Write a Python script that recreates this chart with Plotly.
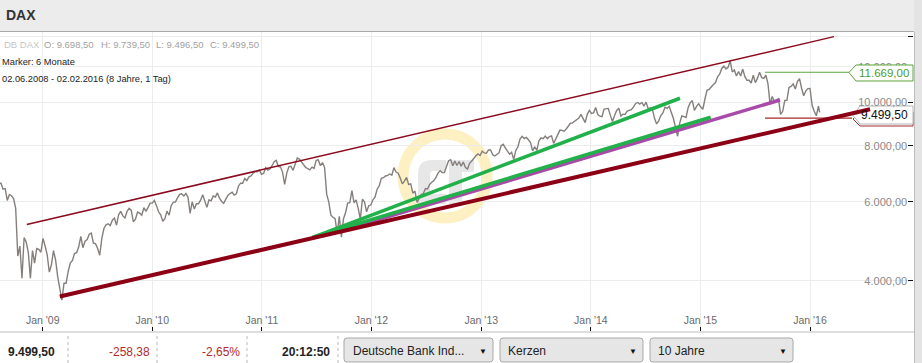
import math
import pandas as pd
import plotly.graph_objects as go

W, H = 922, 363

# ---------------- data ----------------
# weekly DAX values (Fridays), starting 2008-08-08
dax_2008 = [6600, 6600, 6400, 6420,
            6040, 6230, 6190, 6100,
            5800, 4540, 4780, 4050, 4990,
            4880, 4630, 4050, 4670,
            4380, 4720, 4700, 4630]
dax_2009 = [4970, 4780, 4570, 4180, 4340,
            4670, 4450, 4080, 3840,
            3620, 3950, 3950, 4200,
            4380, 4440, 4600, 4620,
            4760, 5020, 4740, 4900, 4940,
            5080, 5110, 4850, 4840,
            4720, 4560, 4980, 5230, 5330,
            5360, 5310, 5460, 5520,
            5320, 5620, 5710, 5580,
            5520, 5710, 5800, 5740, 5410,
            5490, 5690, 5660, 5600,
            5820, 5710, 5830, 5960]
dax_2010 = [5960, 6040, 5880, 5700, 5610,
            5430, 5500, 5720, 5600,
            5880, 5990, 5990, 6120,
            6230, 6250, 6180, 6260, 6140,
            5650, 6000, 5780, 5940,
            5940, 6050, 6220, 6000,
            5830, 6060, 6030, 6180, 6150,
            6280, 6110, 6010, 5950,
            6080, 6200, 6260, 6300,
            6210, 6250, 6500, 6600, 6600,
            6760, 6690, 6820, 6850,
            6950, 7000, 7000, 7060, 6910]
dax_2011 = [6950, 7150, 7060, 7100,
            7220, 7370, 7420, 7190,
            7180, 6980, 6560, 6950,
            7180, 7200, 7050, 7250, 7510,
            7470, 7370, 7270, 7160,
            7110, 7070, 7170, 7120,
            7420, 7440, 7220, 7340, 7160,
            6240, 5990, 5600, 5540,
            5500, 5100, 5570, 5000, 5500,
            5680, 5960, 5970, 6350,
            5970, 6060, 5800, 5490,
            6080, 5990, 5700, 5880, 5900]
dax_2012 = [6060, 6140, 6400, 6510,
            6770, 6790, 6850, 6870,
            6920, 6880, 7150, 6990, 6950,
            6780, 6580, 6670, 6800,
            6560, 6580, 6270, 6340,
            5980, 6130, 6230, 6260, 6420,
            6410, 6560, 6630, 6690,
            6800, 6950, 7040, 6970, 6970,
            7210, 7410, 7450, 7220,
            7400, 7230, 7380, 7200,
            7360, 7160, 7100, 7310, 7400,
            7520, 7600, 7670, 7610]
dax_2013 = [7780, 7710, 7700, 7830,
            7830, 7640, 7590, 7660,
            7710, 8000, 8060, 7910, 7800,
            7660, 7740, 7460, 7810,
            7960, 8280, 8400, 8300, 8350,
            8250, 8130, 7790, 7960,
            7810, 8210, 8330, 8300,
            8410, 8300, 8390, 8420, 8100,
            8270, 8510, 8670, 8660,
            8620, 8720, 8870, 8980,
            9000, 9080, 9170, 9220, 9400,
            9170, 9010, 9400, 9590]
dax_2014 = [9440, 9470, 9740, 9390, 9310,
            9290, 9660, 9660, 9690,
            9350, 9060, 9340, 9590,
            9700, 9320, 9410, 9400,
            9560, 9580, 9630, 9770, 9940,
            9990, 9910, 9990, 9810,
            10010, 9670, 9720, 9640,
            9210, 8950, 9090, 9340, 9470,
            9750, 9690, 9800, 9490,
            9200, 8790, 8400, 8990, 9330,
            9290, 9250, 9730, 9980,
            10090, 9590, 9790, 9930]
dax_2015 = [9760, 9650, 10170, 10650, 10690,
            10850, 10960, 11050, 11400,
            11550, 11900, 12040, 11870,
            11970, 12370, 11690, 11810,
            11450, 11710, 11450, 11860, 11410,
            11200, 11200, 11040, 11490,
            11060, 11320, 11670, 11350, 11310,
            11490, 10990, 9900, 10300,
            10040, 10120, 10190, 9400,
            9550, 10100, 10100, 10790, 10850,
            10990, 10710, 11120, 11290,
            10750, 10340, 10610, 10730]
dax_2016 = [10740, 9850, 9550, 9330, 9800]
weekly_start = "2008-08-08"
last_date = "2016-02-02"
last_value = 9499.5

upper_channel_dates = ["2008-11-09", "2016-03-21"]
upper_channel_vals = [5340, 14010]
lower_trend_dates = ["2009-02-27", "2016-07-19"]
lower_trend_vals = [3690, 9650]
green1_dates = ["2011-06-20", "2014-10-25"]
green1_vals = [5000, 10210]
green2_dates = ["2011-06-20", "2015-02-04"]
green2_vals = [5000, 9260]
purple_dates = ["2011-08-26", "2015-09-23"]
purple_vals = [5110, 10120]
green_level_dates = ["2015-08-04", "2016-05-10"]
green_level = 11669
red_level_dates = ["2015-08-04", "2016-05-20"]
red_level = 9224

ytick_vals = [4000, 6000, 8000, 10000, 12000, 14000]
ytick_text = ["4.000,00", "6.000,00", "8.000,00", "10.000,00", "12.000,00", "14.000,00"]
xtick_dates = ["2009-01-01", "2010-01-01", "2011-01-01", "2012-01-01",
               "2013-01-01", "2014-01-01", "2015-01-01", "2016-01-01"]
xtick_text = ["Jan '09", "Jan '10", "Jan '11", "Jan '12",
              "Jan '13", "Jan '14", "Jan '15", "Jan '16"]

# ---------------- build series ----------------
weekly_vals = dax_2008 + dax_2009 + dax_2010 + dax_2011 + dax_2012 + dax_2013 + dax_2014 + dax_2015 + dax_2016
weekly_dates = list(pd.date_range(weekly_start, periods=len(weekly_vals), freq="W-FRI"))
price_x = weekly_dates + [pd.Timestamp(last_date)]
price_y = weekly_vals + [last_value]

# ---------------- layout calibration (pixels) ----------------
PLOT_L, PLOT_R, PLOT_T, PLOT_B = 0, 913, 32, 331
JAN09_PX, PX_PER_DAY = 42.7, 0.3002
Y10K_PX, PX_PER_DECADE = 102.3, 448.4
x0 = pd.Timestamp("2009-01-01") + pd.Timedelta(days=(PLOT_L - JAN09_PX) / PX_PER_DAY)
x1 = pd.Timestamp("2009-01-01") + pd.Timedelta(days=(PLOT_R - JAN09_PX) / PX_PER_DAY)
ylog_top = 4 + (Y10K_PX - PLOT_T) / PX_PER_DECADE
ylog_bot = 4 - (PLOT_B - Y10K_PX) / PX_PER_DECADE

FONT = "Arial, Liberation Sans, sans-serif"


def px(x):
    return x / W


def py(y):
    return 1 - y / H


def P(x, y):
    return f"{px(x):.5f},{py(y):.5f}"


def poly(points):
    return "M " + " L ".join(P(x, y) for x, y in points) + " Z"


def rrect(x0_, y0_, x1_, y1_, r=3):
    return (f"M {P(x0_ + r, y0_)} L {P(x1_ - r, y0_)} Q {P(x1_, y0_)} {P(x1_, y0_ + r)} "
            f"L {P(x1_, y1_ - r)} Q {P(x1_, y1_)} {P(x1_ - r, y1_)} L {P(x0_ + r, y1_)} "
            f"Q {P(x0_, y1_)} {P(x0_, y1_ - r)} L {P(x0_, y0_ + r)} Q {P(x0_, y0_)} {P(x0_ + r, y0_)} Z")


fig = go.Figure()

fig.add_trace(go.Scatter(x=price_x, y=price_y, mode="lines",
                         line=dict(color="#857f7c", width=1.4), hoverinfo="skip"))
fig.add_trace(go.Scatter(x=upper_channel_dates, y=upper_channel_vals, mode="lines",
                         line=dict(color="#8c0a1e", width=1.5), hoverinfo="skip"))
fig.add_trace(go.Scatter(x=purple_dates, y=purple_vals, mode="lines",
                         line=dict(color="#a84aa8", width=3.5), hoverinfo="skip"))
fig.add_trace(go.Scatter(x=green2_dates, y=green2_vals, mode="lines",
                         line=dict(color="#22b04b", width=3.5), hoverinfo="skip"))
fig.add_trace(go.Scatter(x=green1_dates, y=green1_vals, mode="lines",
                         line=dict(color="#22b04b", width=3.5), hoverinfo="skip"))
fig.add_trace(go.Scatter(x=green_level_dates, y=[green_level, green_level], mode="lines",
                         line=dict(color="#5aa53a", width=1.2), hoverinfo="skip"))
fig.add_trace(go.Scatter(x=red_level_dates, y=[red_level, red_level], mode="lines",
                         line=dict(color="#a52a2a", width=1.2), hoverinfo="skip"))
fig.add_trace(go.Scatter(x=lower_trend_dates, y=lower_trend_vals, mode="lines",
                         line=dict(color="#8c0015", width=4), hoverinfo="skip"))

shapes = []
# watermark
shapes.append(dict(type="circle", xref="paper", yref="paper",
                   x0=px(445 - 42), x1=px(445 + 42), y0=py(176 + 42), y1=py(176 - 42),
                   line=dict(color="rgba(250,222,120,0.45)", width=11), layer="between"))
logo_c = (f"M {P(418, 174)} Q {P(418, 160)} {P(432, 160)} L {P(446, 160)} L {P(446, 171)} "
          f"L {P(433, 171)} Q {P(430, 171)} {P(430, 175)} L {P(430, 194)} L {P(446, 194)} "
          f"L {P(446, 204)} L {P(418, 204)} Z")
logo_t = poly([(449, 160), (474, 160), (474, 172), (462, 172), (462, 204), (449, 204)])
for pth in (logo_c, logo_t):
    shapes.append(dict(type="path", xref="paper", yref="paper", path=pth,
                       fillcolor="rgba(215,215,215,0.6)", line=dict(width=0), layer="between"))

# header bar
shapes.append(dict(type="rect", xref="paper", yref="paper", x0=0, x1=1, y0=py(31), y1=1,
                   fillcolor="#ececec", line=dict(width=0), layer="above"))
shapes.append(dict(type="line", xref="paper", yref="paper", x0=0, x1=px(914), y0=py(31.5), y1=py(31.5),
                   line=dict(color="#a9a9a9", width=1), layer="above"))
# right strip
shapes.append(dict(type="rect", xref="paper", yref="paper", x0=px(914), x1=1, y0=0, y1=1,
                   fillcolor="#e4e4e4", line=dict(width=0), layer="above"))
shapes.append(dict(type="line", xref="paper", yref="paper", x0=px(914.5), x1=px(914.5), y0=0, y1=py(32),
                   line=dict(color="#bdbdbd", width=1), layer="above"))
# bottom bar
shapes.append(dict(type="line", xref="paper", yref="paper", x0=0, x1=px(914), y0=py(332), y1=py(332),
                   line=dict(color="#bcbcbc", width=1), layer="above"))
for sx in (68, 157, 247, 338):
    shapes.append(dict(type="line", xref="paper", yref="paper", x0=px(sx), x1=px(sx), y0=0, y1=py(333),
                       line=dict(color="#b8b8b8", width=1, dash="3px,3px"), layer="above"))
for bx0, bx1 in ((344, 493), (500, 643), (650, 793)):
    shapes.append(dict(type="path", xref="paper", yref="paper", path=rrect(bx0, 338, bx1, 362),
                       fillcolor="#e6e6e6", line=dict(color="#a9a9a9", width=1), layer="above"))

# price labels at the right
shapes.append(dict(type="path", xref="paper", yref="paper",
                   path=poly([(849, 72.5), (856, 65), (913, 65), (913, 81), (856, 81)]),
                   fillcolor="white", line=dict(color="#5aa53a", width=1), layer="above"))
shapes.append(dict(type="path", xref="paper", yref="paper",
                   path=poly([(853, 119), (860, 112), (913, 112), (913, 126), (860, 126)]),
                   fillcolor="white", line=dict(color="#a52a2a", width=1), layer="between"))
shapes.append(dict(type="path", xref="paper", yref="paper",
                   path=poly([(853, 115.5), (860, 106), (913, 106), (913, 124), (860, 124)]),
                   fillcolor="white", line=dict(color="#b5b5b5", width=1), layer="between"))

annotations = []


def txt(x, y, s, size=10, color="#222", anchor="left", bold=False):
    annotations.append(dict(xref="paper", yref="paper", x=px(x), y=py(y), text=(f"<b>{s}</b>" if bold else s),
                            showarrow=False, xanchor=anchor, yanchor="middle",
                            font=dict(family=FONT, size=size, color=color)))


txt(4, 15, "DAX", size=14, color="#333", bold=True)
txt(2, 44.5, "DB DAX", size=9.5, color="#c6c6c6")
txt(42, 44.5, "O: 9.698,50", size=9.5, color="#a2a2a2")
txt(99, 44.5, "H: 9.739,50", size=9.5, color="#a2a2a2")
txt(154, 44.5, "L: 9.496,50", size=9.5, color="#a2a2a2")
txt(208, 44.5, "C: 9.499,50", size=9.5, color="#a2a2a2")
txt(0, 62, "Marker: 6 Monate", size=9.3, color="#222")
txt(0, 79, "02.06.2008 - 02.02.2016 (8 Jahre, 1 Tag)", size=9.3, color="#222")

txt(57, 352, "9.499,50", size=12, color="#222", anchor="right", bold=True)
txt(152, 352, "-258,38", size=12, color="#b22a2a", anchor="right")
txt(242, 352, "-2,65%", size=12, color="#b22a2a", anchor="right")
txt(332, 352, "20:12:50", size=12, color="#222", anchor="right", bold=True)
txt(351, 351, "Deutsche Bank Ind...", size=12, color="#222")
txt(506, 351, "Kerzen", size=12, color="#222")
txt(656, 351, "10 Jahre", size=12, color="#222")
for ax_ in (483, 633, 783):
    txt(ax_, 351, "▼", size=8, color="#111", anchor="center")

txt(884, 73, "11.669,00", size=11.5, color="#4c9c2e", anchor="center")
txt(884, 115, "9.499,50", size=12, color="#111", anchor="center")

fig.update_layout(
    width=W, height=H, margin=dict(l=0, r=0, t=0, b=0),
    paper_bgcolor="white", plot_bgcolor="white", showlegend=False,
    shapes=shapes, annotations=annotations,
    font=dict(family=FONT),
    xaxis=dict(type="date", range=[x0, x1], domain=[px(PLOT_L), px(PLOT_R)],
               tickvals=xtick_dates, ticktext=xtick_text, ticklabelposition="inside",
               ticks="inside", ticklen=4, tickcolor="#111", tickfont=dict(size=10.5, color="#6a6a6a"),
               showgrid=True, gridcolor="#ececec", gridwidth=1, zeroline=False, showline=False,
               fixedrange=True),
    yaxis=dict(type="log", range=[ylog_bot, ylog_top], domain=[py(PLOT_B), py(PLOT_T)], side="right",
               tickvals=ytick_vals, ticktext=ytick_text, ticklabelposition="inside",
               ticks="inside", ticklen=5, tickcolor="#111", tickfont=dict(size=11, color="#8a8a8a"),
               showgrid=True, gridcolor="#ececec", gridwidth=1, zeroline=False, showline=False,
               fixedrange=True),
)

fig.write_html("out.html", config={"displayModeBar": False},
               post_script="document.body.style.margin='0';document.body.style.overflow='hidden';")
